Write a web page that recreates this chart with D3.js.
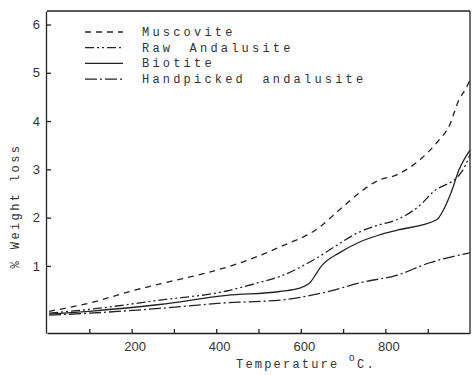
<!DOCTYPE html>
<html>
<head>
<meta charset="utf-8">
<script src="https://cdn.jsdelivr.net/npm/d3@7"></script>
<style>
  body { margin: 0; background: #fff; }
  svg { display: block; }
  .axis path, .axis line { stroke: #222; stroke-width: 1.3; }
  .axis text { font-family: "Liberation Sans", Arial, sans-serif; font-size: 13px; fill: #333; }
  .mono { font-family: "Liberation Mono", "DejaVu Sans Mono", monospace; fill: #333; }
  .curve { fill: none; stroke: #222; stroke-width: 1.3; }
</style>
</head>
<body>
<div id="chart"></div>
<script>
// --- data ---
const seriesNames = ['Muscovite', 'Raw Andalusite', 'Biotite', 'Handpicked andalusite'];

const muscoviteT = [5, 100, 200, 283, 384, 462, 550, 644, 691, 738, 785, 825, 887, 927, 950, 974, 991, 1000];
const muscoviteV = [0.06, 0.23, 0.48, 0.66, 0.87, 1.08, 1.39, 1.80, 2.16, 2.51, 2.78, 2.88, 3.24, 3.61, 3.88, 4.44, 4.69, 4.85];

const rawT = [5, 100, 266, 425, 495, 550, 637, 675, 738, 785, 825, 887, 910, 979, 1000];
const rawV = [0.02, 0.10, 0.29, 0.48, 0.64, 0.78, 1.16, 1.37, 1.70, 1.85, 1.95, 2.30, 2.51, 2.93, 3.30];

const biotiteT = [5, 100, 266, 425, 550, 597, 620, 651, 691, 738, 785, 828, 920, 955, 974, 1000];
const biotiteV = [0.0, 0.06, 0.20, 0.39, 0.47, 0.54, 0.64, 1.02, 1.27, 1.49, 1.64, 1.74, 1.95, 2.51, 2.99, 3.40];

const handT = [5, 100, 266, 415, 560, 651, 745, 828, 903, 1000];
const handV = [-0.02, 0.02, 0.12, 0.23, 0.30, 0.44, 0.66, 0.81, 1.06, 1.27];

const xTickLabels = [200, 400, 600, 800];
const xMinorTicks = [100, 200, 300, 400, 500, 600, 700, 800, 900];
const yTickLabels = [1, 2, 3, 4, 5, 6];

const dashes = ['6,5', '9,3,2,3,2,3', null, '12,3,2,3'];

// --- layout ---
const W = 472, H = 375;
const svg = d3.select('#chart').append('svg').attr('width', W).attr('height', H);

const x = d3.scaleLinear().domain([0, 1000]).range([47, 470]);
const y = d3.scaleLinear().domain([-0.39, 6.28]).range([333, 11]);

const zip = (ts, vs) => ts.map((t, i) => ({ t: t, v: vs[i] }));
const series = [
  zip(muscoviteT, muscoviteV),
  zip(rawT, rawV),
  zip(biotiteT, biotiteV),
  zip(handT, handV)
];

// frame top / right
svg.append('line').attr('class', 'curve')
  .attr('x1', x(0)).attr('x2', x(1000)).attr('y1', y.range()[1]).attr('y2', y.range()[1]);
svg.append('line').attr('class', 'curve')
  .attr('x1', x(1000)).attr('x2', x(1000)).attr('y1', y.range()[1]).attr('y2', y.range()[0]);

// x axis: inner minor ticks + labels
svg.append('g').attr('class', 'axis')
  .attr('transform', `translate(0,${y.range()[0]})`)
  .call(d3.axisTop(x).tickValues(xMinorTicks).tickSizeInner(4).tickSizeOuter(0).tickFormat(''));
svg.append('g').attr('class', 'axis')
  .attr('transform', `translate(0,${y.range()[0]})`)
  .call(d3.axisBottom(x).tickValues(xTickLabels).tickSize(0).tickPadding(9))
  .call(g => g.select('.domain').remove())
  .selectAll('text').attr('dx', 3);

// y axis
svg.append('g').attr('class', 'axis')
  .attr('transform', `translate(${x(0) - 1},0)`)
  .call(d3.axisLeft(y).tickValues(yTickLabels).tickFormat(d3.format('d'))
    .tickSizeInner(-5).tickSizeOuter(0).tickPadding(6));

// curves
const line = d3.line().x(d => x(d.t)).y(d => y(d.v)).curve(d3.curveMonotoneX);
series.forEach((s, i) => {
  svg.append('path').attr('class', 'curve')
    .attr('d', line(s))
    .attr('stroke-dasharray', dashes[i]);
});

// legend
const leg = svg.append('g').attr('transform', 'translate(85,32)');
seriesNames.forEach((name, i) => {
  leg.append('line').attr('class', 'curve')
    .attr('x1', 0).attr('x2', 38).attr('y1', i * 15.7).attr('y2', i * 15.7)
    .attr('stroke-dasharray', dashes[i]);
  leg.append('text').attr('class', 'mono')
    .attr('x', 57).attr('y', i * 15.7 + 4)
    .attr('font-size', 12).attr('letter-spacing', 3.2)
    .attr('word-spacing', 6)
    .text(name);
});

// axis titles
const xt = svg.append('text').attr('class', 'mono')
  .attr('x', 236).attr('y', 368).attr('font-size', 12).attr('letter-spacing', 2.2);
xt.append('tspan').text('Temperature ');
xt.append('tspan').attr('dy', -7).attr('font-size', 10).text('o');
xt.append('tspan').attr('dy', 7).text('C.');

svg.append('text').attr('class', 'mono')
  .attr('transform', 'translate(19,206) rotate(-90)')
  .attr('text-anchor', 'middle')
  .attr('font-size', 12).attr('letter-spacing', 2.4)
  .text('% Weight loss');
</script>
</body>
</html>
